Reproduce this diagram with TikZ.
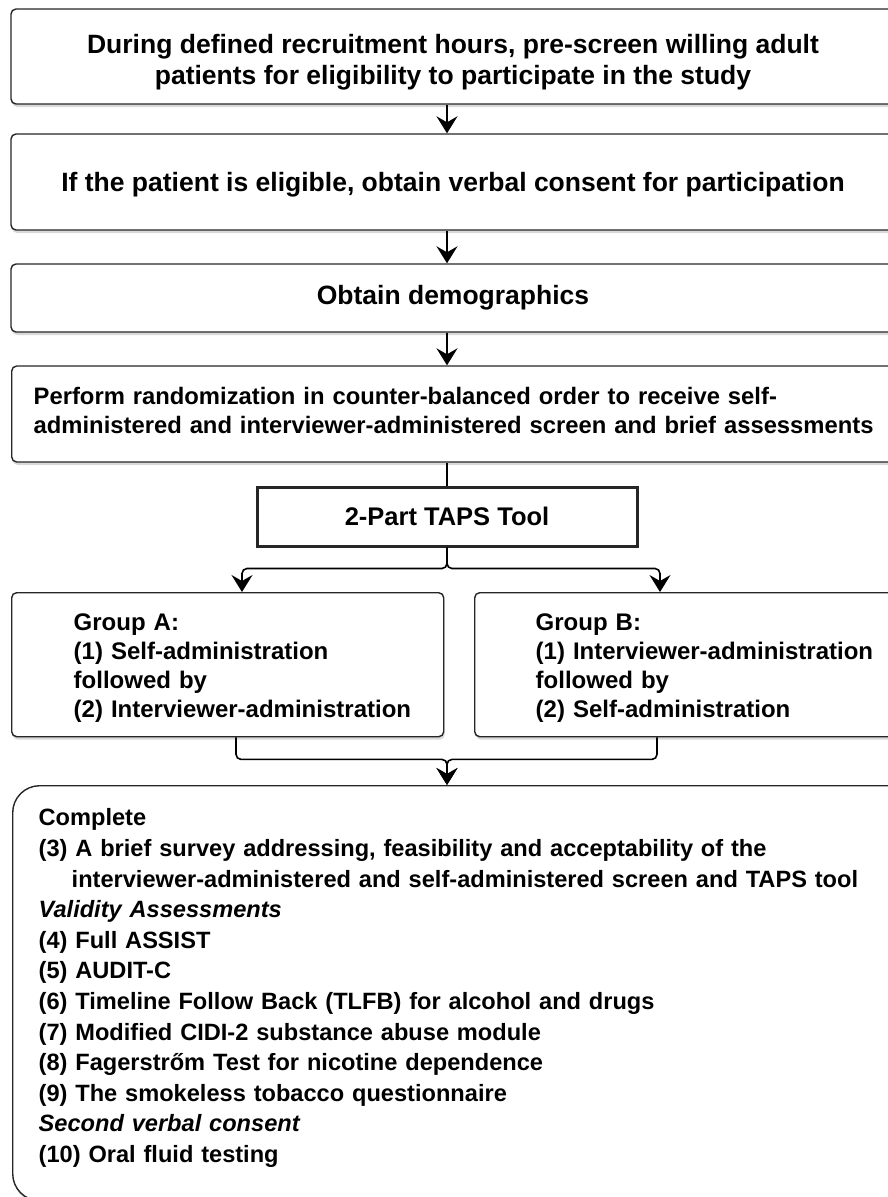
\documentclass[tikz,border=0pt]{standalone}
\usepackage{fontspec}
\setmainfont{Liberation Sans}
\usepackage{tikz}
\usetikzlibrary{arrows.meta}
\usetikzlibrary{shadows}
\usetikzlibrary{calc}

\newcommand{\gind}{\hspace*{51pt}}

\tikzset{
  stepbox/.style={draw=black!85, line width=1.4pt, rounded corners=5pt, fill=white,
    drop shadow={shadow xshift=1pt, shadow yshift=-3pt, opacity=0.3}, inner sep=0pt},
  bigfont/.style={font=\bfseries\fontsize{26.5}{31}\selectfont},
  smallfont/.style={font=\bfseries\fontsize{24}{29}\selectfont},
  arr/.style={line width=1.6pt, rounded corners=5pt, -{Stealth[length=17pt,width=21pt,inset=6pt]}},
}

\begin{document}
\begin{tikzpicture}[x=1pt,y=1pt]
  \useasboundingbox (0,0) rectangle (888,-1197);
  \node[stepbox, bigfont, align=center, minimum width=884pt, minimum height=95pt] (pre) at (453,-56.5)
    {\rule{0pt}{30pt}During defined recruitment hours, pre-screen willing adult\\patients for eligibility to participate in the study};
  \node[stepbox, bigfont, minimum width=884pt, minimum height=96pt] (consent) at (453,-182)
    {\rule{0pt}{24pt}If the patient is eligible, obtain verbal consent for participation};
  \node[stepbox, bigfont, minimum width=884pt, minimum height=68pt] (demo) at (453,-298)
    {Obtain demographics};
  \node[stepbox, font=\bfseries\fontsize{23.8}{29}\selectfont, anchor=west, align=left, text width=860pt, inner xsep=22pt,
    minimum height=96pt] (rand) at (11,-414)
    {Perform randomization in counter-balanced order to receive self-\\administered and interviewer-administered screen and brief assessments\rule[-8pt]{0pt}{8pt}};
  \node[draw=black!85, line width=3pt, fill=white, font=\bfseries\fontsize{25.5}{30}\selectfont,
    minimum width=380pt, minimum height=59pt] (taps) at (447,-516.5) {2-Part TAPS Tool};
  \node[stepbox, smallfont, anchor=north west, align=left, text width=410pt, inner xsep=11pt, minimum height=144pt] (ga) at (11,-592)
    {\gind\rule{0pt}{24pt}Group A:\\\gind(1) Self-administration\\\gind followed by\\\gind(2) Interviewer-administration};
  \node[stepbox, smallfont, anchor=north west, align=left, text width=420pt, inner xsep=61pt, minimum height=144pt] (gb) at (474,-592)
    {\rule{0pt}{24pt}Group B:\\(1) Interviewer-administration\\followed by\\(2) Self-administration};
  \node[stepbox, rounded corners=27pt, font=\bfseries\fontsize{23.6}{30.6}\selectfont, anchor=north west, align=left,
    text width=880pt, inner xsep=26pt, minimum height=415pt] (fin) at (12,-785)
    {Complete\\
     (3) A brief survey addressing, feasibility and acceptability of the\\
     \hspace*{33pt}interviewer-administered and self-administered screen and TAPS tool\\
     \textit{Validity Assessments}\\
     (4) Full ASSIST\\
     (5) AUDIT-C\\
     (6) Timeline Follow Back (TLFB) for alcohol and drugs\\
     (7) Modified CIDI-2 substance abuse module\\
     (8) Fagerstrőm Test for nicotine dependence\\
     (9) The smokeless tobacco questionnaire\\
     \textit{Second verbal consent}\\
     (10) Oral fluid testing\rule[-15pt]{0pt}{15pt}};

  \foreach \a/\b in {pre/consent, consent/demo, demo/rand}
    \draw[arr] (\a.south -| taps) -- (\b.north -| taps);
  \draw[line width=2.5pt] (rand.south -| taps) -- (taps.north);
  \draw[arr] (taps.south) -- ++(0,-21) -| ([xshift=231pt]ga.north west);
  \draw[arr] (taps.south) -- ++(0,-21) -| ([xshift=186pt]gb.north west);
  \draw[arr] ([xshift=225pt]ga.south west) -- ++(0,-22) -| (fin.north -| taps);
  \draw[arr] ([xshift=183pt]gb.south west) -- ++(0,-22) -| (fin.north -| taps);
\end{tikzpicture}
\end{document}
